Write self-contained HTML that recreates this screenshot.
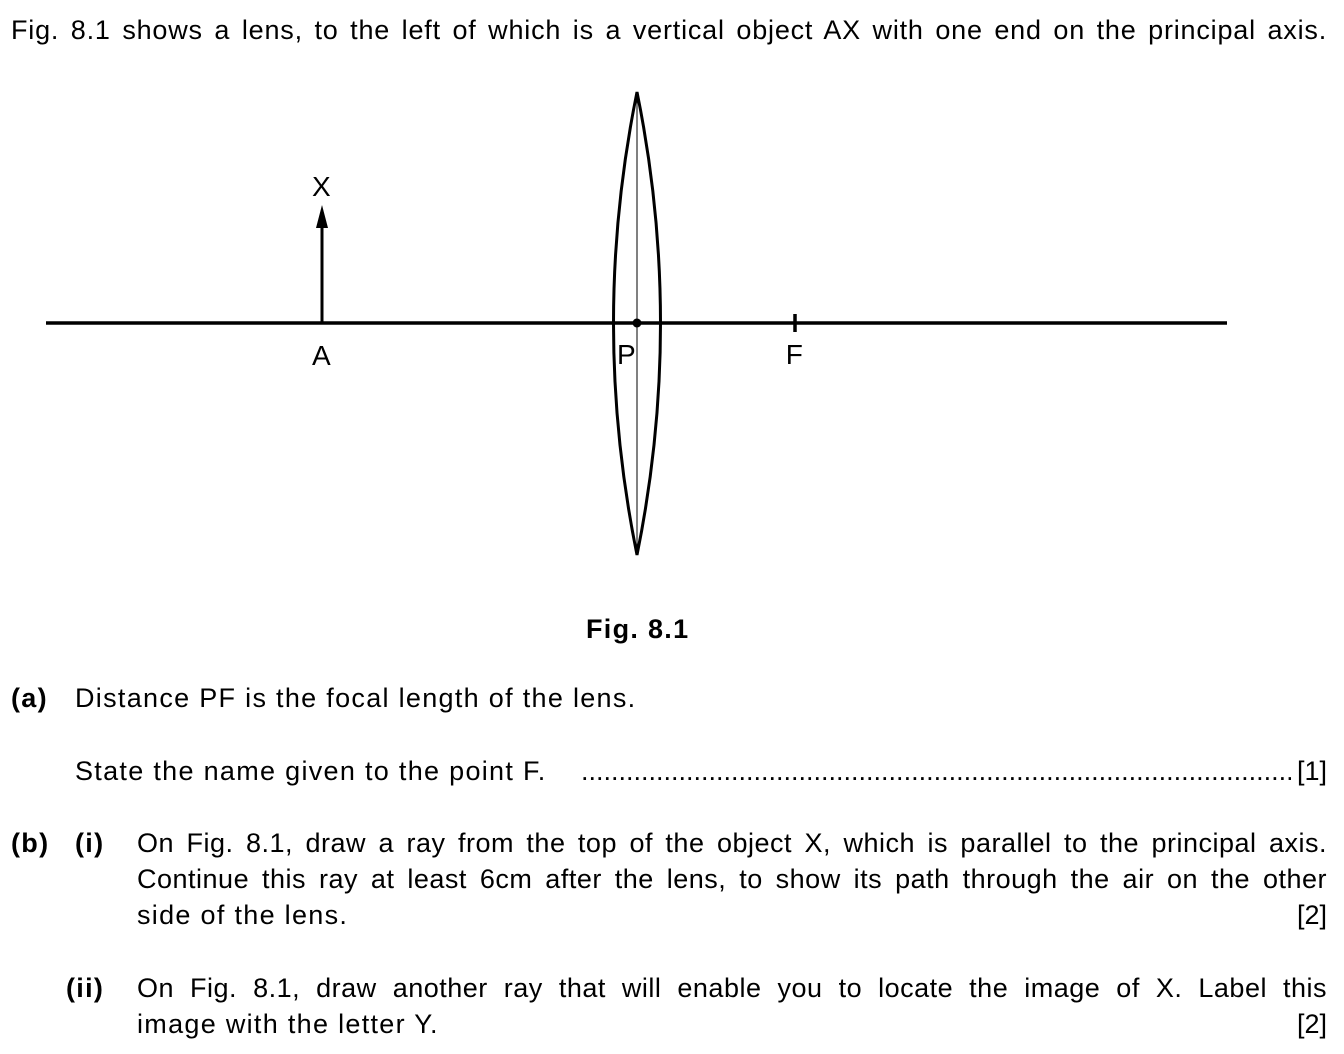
<!DOCTYPE html>
<html><head><style>
body{margin:0;width:1344px;height:1054px;background:#fff;position:relative;font-family:"Liberation Sans",Arial,sans-serif;font-size:27px;letter-spacing:1.3px;color:#000;overflow:hidden}
.t{position:absolute;white-space:nowrap;line-height:30px}
.b{font-weight:bold}
.j{text-align:justify;text-align-last:justify}
.r{position:absolute;right:17px;line-height:30px;letter-spacing:0}
</style></head><body>
<div class="t j" style="left:11px;top:15px;width:1316px;letter-spacing:0.8px;">Fig. 8.1 shows a lens, to the left of which is a vertical object AX with one end on the principal axis.</div>
<svg style="position:absolute;left:0;top:0" width="1344" height="1054">
<line x1="46" y1="323" x2="1227" y2="323" stroke="#000" stroke-width="3.5"/>
<line x1="322" y1="323" x2="322" y2="225" stroke="#000" stroke-width="3"/>
<polygon points="322,205 316,228 328,228" fill="#000"/>
<path d="M637,92 Q590,323 637,555 Q684,323 637,92 Z" fill="none" stroke="#000" stroke-width="3"/>
<line x1="637" y1="92" x2="637" y2="555" stroke="#000" stroke-width="1"/>
<circle cx="637" cy="323" r="4.5" fill="#000"/>
<line x1="795" y1="314" x2="795" y2="332" stroke="#000" stroke-width="3.5"/>
<text x="322" y="196" font-size="28" text-anchor="middle" font-family="Liberation Sans,Arial,sans-serif">X</text>
<text x="322" y="365" font-size="28" text-anchor="middle" font-family="Liberation Sans,Arial,sans-serif">A</text>
<text x="627" y="364" font-size="28" text-anchor="middle" font-family="Liberation Sans,Arial,sans-serif">P</text>
<text x="795" y="364" font-size="28" text-anchor="middle" font-family="Liberation Sans,Arial,sans-serif">F</text>
</svg>
<div class="t b" style="left:586px;top:614px;">Fig. 8.1</div>
<div class="t b" style="left:11px;top:683px;">(a)</div>
<div class="t" style="left:75px;top:683px;">Distance PF is the focal length of the lens.</div>
<div class="t" style="left:75px;top:756px;">State the name given to the point F.</div>
<div class="t" style="left:581px;top:756px;width:710px;overflow:hidden;letter-spacing:0;">.....................................................................................................................................</div>
<div class="r" style="top:756px;">[1]</div>
<div class="t b" style="left:11px;top:828px;">(b)</div>
<div class="t b" style="left:75px;top:828px;">(i)</div>
<div class="t j" style="left:137px;top:828px;width:1190px;letter-spacing:0.5px;">On Fig. 8.1, draw a ray from the top of the object X, which is parallel to the principal axis.</div>
<div class="t j" style="left:137px;top:864px;width:1190px;letter-spacing:0.5px;">Continue this ray at least 6cm after the lens, to show its path through the air on the other</div>
<div class="t" style="left:137px;top:900px;">side of the lens.</div>
<div class="r" style="top:900px;">[2]</div>
<div class="t b" style="left:66px;top:973px;">(ii)</div>
<div class="t j" style="left:137px;top:973px;width:1190px;letter-spacing:0.5px;">On Fig. 8.1, draw another ray that will enable you to locate the image of X. Label this</div>
<div class="t" style="left:137px;top:1009px;">image with the letter Y.</div>
<div class="r" style="top:1009px;">[2]</div>
</body></html>
